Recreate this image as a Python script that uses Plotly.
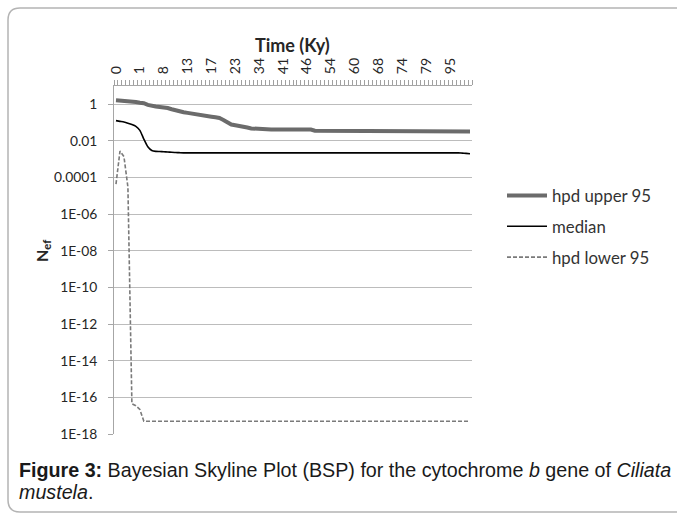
import plotly.graph_objects as go

# ---- data ----
tick_labels = ["0", "1", "8", "13", "17", "23", "34", "41", "46", "54", "60", "68", "74", "79", "95"]

hpd_upper = [1.66, 1.62, 1.55, 1.48, 1.45, 1.35, 1.23, 1.15, 0.93, 0.79,
             0.76, 0.72, 0.71, 0.63, 0.54, 0.46, 0.41, 0.37, 0.34, 0.32,
             0.30, 0.275, 0.25, 0.23, 0.21, 0.195, 0.178, 0.141, 0.10, 0.079,
             0.072, 0.068, 0.063, 0.054, 0.048, 0.046, 0.045, 0.042, 0.042, 0.042,
             0.042, 0.042, 0.042, 0.042, 0.042, 0.042, 0.042, 0.042, 0.042, 0.042,
             0.036, 0.036, 0.036, 0.036, 0.036, 0.036, 0.036, 0.036, 0.036, 0.036,
             0.036, 0.036, 0.036, 0.036, 0.036, 0.036, 0.036, 0.033, 0.033, 0.033,
             0.033, 0.033, 0.033, 0.033, 0.033, 0.033, 0.033, 0.033, 0.033, 0.033,
             0.033, 0.033, 0.033, 0.033, 0.033, 0.033, 0.033, 0.033, 0.033, 0.033]

median = [0.129, 0.1175, 0.107, 0.0933, 0.0794, 0.0631, 0.038, 0.0126, 0.00479, 0.00302,
          0.00269, 0.00263, 0.00257, 0.00251, 0.0024, 0.00234, 0.00229, 0.00224, 0.00224, 0.00224,
          0.00224, 0.00224, 0.00224, 0.00224, 0.00224, 0.00224, 0.00224, 0.00224, 0.00224, 0.00224,
          0.00224, 0.00224, 0.00224, 0.00224, 0.00224, 0.00224, 0.00224, 0.00224, 0.00224, 0.00224,
          0.00224, 0.00224, 0.00224, 0.00224, 0.00224, 0.00224, 0.00224, 0.00224, 0.00224, 0.00224,
          0.00224, 0.00224, 0.00224, 0.00224, 0.00224, 0.00224, 0.00224, 0.00224, 0.00224, 0.00224,
          0.00224, 0.00224, 0.00224, 0.00224, 0.00224, 0.00224, 0.00224, 0.00224, 0.00224, 0.00224,
          0.00224, 0.00224, 0.00224, 0.00224, 0.00224, 0.00224, 0.00224, 0.00224, 0.00224, 0.00224,
          0.00224, 0.00224, 0.00224, 0.00224, 0.00224, 0.00224, 0.00224, 0.00216, 0.00209, 0.002]

hpd_lower = [4.4e-5, 2.8e-3, 1.4e-3, 3e-5, 4.5e-17, 3.5e-17, 2.2e-17, 5e-18, 5e-18, 5e-18,
             5e-18, 5e-18, 5e-18, 5e-18, 5e-18, 5e-18, 5e-18, 5e-18, 5e-18, 5e-18,
             5e-18, 5e-18, 5e-18, 5e-18, 5e-18, 5e-18, 5e-18, 5e-18, 5e-18, 5e-18,
             5e-18, 5e-18, 5e-18, 5e-18, 5e-18, 5e-18, 5e-18, 5e-18, 5e-18, 5e-18,
             5e-18, 5e-18, 5e-18, 5e-18, 5e-18, 5e-18, 5e-18, 5e-18, 5e-18, 5e-18,
             5e-18, 5e-18, 5e-18, 5e-18, 5e-18, 5e-18, 5e-18, 5e-18, 5e-18, 5e-18,
             5e-18, 5e-18, 5e-18, 5e-18, 5e-18, 5e-18, 5e-18, 5e-18, 5e-18, 5e-18,
             5e-18, 5e-18, 5e-18, 5e-18, 5e-18, 5e-18, 5e-18, 5e-18, 5e-18, 5e-18,
             5e-18, 5e-18, 5e-18, 5e-18, 5e-18, 5e-18, 5e-18, 5e-18, 5e-18, 5e-18]

y_tick_vals = [1e-18, 1e-16, 1e-14, 1e-12, 1e-10, 1e-08, 1e-06, 1e-04, 1e-02, 1]
y_tick_text = ["1E-18", "1E-16", "1E-14", "1E-12", "1E-10", "1E-08", "1E-06", "0.0001", "0.01", "1"]

LABEL_STEP = 6

# ---- figure ----
W, H = 677, 518
n = len(hpd_upper)
x_idx = list(range(n))

def px_x(p):
    return p / W

def px_y(p):
    return 1 - p / H

fig = go.Figure()
fig.add_trace(go.Scatter(x=x_idx, y=hpd_upper, mode="lines", name="hpd upper 95",
                         legendgroup="a",
                         line=dict(color="#6b6b6b", width=4)))
fig.add_trace(go.Scatter(x=x_idx, y=median, mode="lines", name="median",
                         legendgroup="b",
                         line=dict(color="#000000", width=1.6, shape="spline", smoothing=0.6)))
fig.add_trace(go.Scatter(x=x_idx, y=hpd_lower, mode="lines", name="hpd lower 95",
                         legendgroup="c",
                         line=dict(color="#7a7a7a", width=1.6, dash="4px,2px")))

font_main = "Lato, 'Open Sans', sans-serif"

fig.update_layout(
    width=W, height=H,
    margin=dict(l=0, r=0, t=0, b=0, autoexpand=False),
    paper_bgcolor="white", plot_bgcolor="white",
    font=dict(family=font_main, size=13, color="#404040"),
    showlegend=True,
    legend=dict(x=px_x(502), y=px_y(178), xanchor="left", yanchor="top",
                font=dict(family=font_main, size=16.8, color="#333333"),
                tracegroupgap=6, traceorder="grouped",
                bgcolor="rgba(0,0,0,0)", itemwidth=40),
    xaxis=dict(
        domain=[px_x(114), px_x(472)],
        range=[-0.5, n - 0.5],
        side="top", anchor="y",
        automargin=False,
        tickmode="array",
        tickvals=[i * LABEL_STEP for i in range(len(tick_labels))],
        ticktext=tick_labels,
        tickangle=-90,
        ticks="", ticklen=0,
        ticklabelstandoff=8,
        tickfont=dict(family=font_main, size=14, color="#262626"),
        minor=dict(ticks="outside", ticklen=5, tickcolor="#a0a0a0", dtick=1, tick0=-0.5,
                   showgrid=False),
        showline=True, linecolor="#a6a6a6", linewidth=1,
        showgrid=False, zeroline=False,
    ),
    yaxis=dict(
        domain=[px_y(434), px_y(86)],
        type="log", range=[-18, 1],
        automargin=False,
        tickmode="array", tickvals=y_tick_vals, ticktext=y_tick_text,
        ticks="outside", ticklen=5, tickcolor="#a6a6a6",
        ticklabelstandoff=8,
        tickfont=dict(family=font_main, size=13.8, color="#262626"),
        showgrid=True, gridcolor="#bcbcbc", gridwidth=1,
        showline=True, linecolor="#a6a6a6", linewidth=1,
        zeroline=False,
    ),
)

# axis titles
fig.add_annotation(x=px_x(292), y=px_y(45), xref="paper", yref="paper",
                   xanchor="center", yanchor="middle",
                   text="<b>Time (Ky)</b>", showarrow=False,
                   font=dict(family=font_main, size=18, color="#262626"))
fig.add_annotation(x=px_x(42), y=px_y(251), xref="paper", yref="paper",
                   xanchor="center", yanchor="middle",
                   text="<b>N<sub>ef</sub></b>", textangle=-90, showarrow=False,
                   font=dict(family=font_main, size=16, color="#262626"))

# caption (two lines)
cap_font = dict(family="'Liberation Sans', Arial, sans-serif", size=19.7, color="#1a1a1a")
fig.add_annotation(x=px_x(17), y=px_y(470), xref="paper", yref="paper",
                   xanchor="left", yanchor="middle", align="left",
                   text="<b>Figure 3:</b> Bayesian Skyline Plot (BSP) for the cytochrome <i>b</i> gene of <i>Ciliata</i>",
                   showarrow=False, font=cap_font)
fig.add_annotation(x=px_x(17), y=px_y(492), xref="paper", yref="paper",
                   xanchor="left", yanchor="middle", align="left",
                   text="<i>mustela</i>.",
                   showarrow=False, font=cap_font)

# rounded frame
r = 12
x0, y0, x1, y1 = 8, 8, 690, 512
path = (f"M {px_x(x0)},{px_y(y0 + r)} Q {px_x(x0)},{px_y(y0)} {px_x(x0 + r)},{px_y(y0)} "
        f"L {px_x(x1)},{px_y(y0)} "
        f"M {px_x(x0)},{px_y(y0 + r)} L {px_x(x0)},{px_y(y1 - r)} "
        f"Q {px_x(x0)},{px_y(y1)} {px_x(x0 + r)},{px_y(y1)} L {px_x(x1)},{px_y(y1)}")
fig.add_shape(type="path", xref="paper", yref="paper", path=path,
              line=dict(color="#b4b4b4", width=1.5))

fig.write_html("out.html",
               config={"displayModeBar": False},
               post_script="document.body.style.margin='0';document.body.style.padding='0';document.body.style.overflow='hidden';")
